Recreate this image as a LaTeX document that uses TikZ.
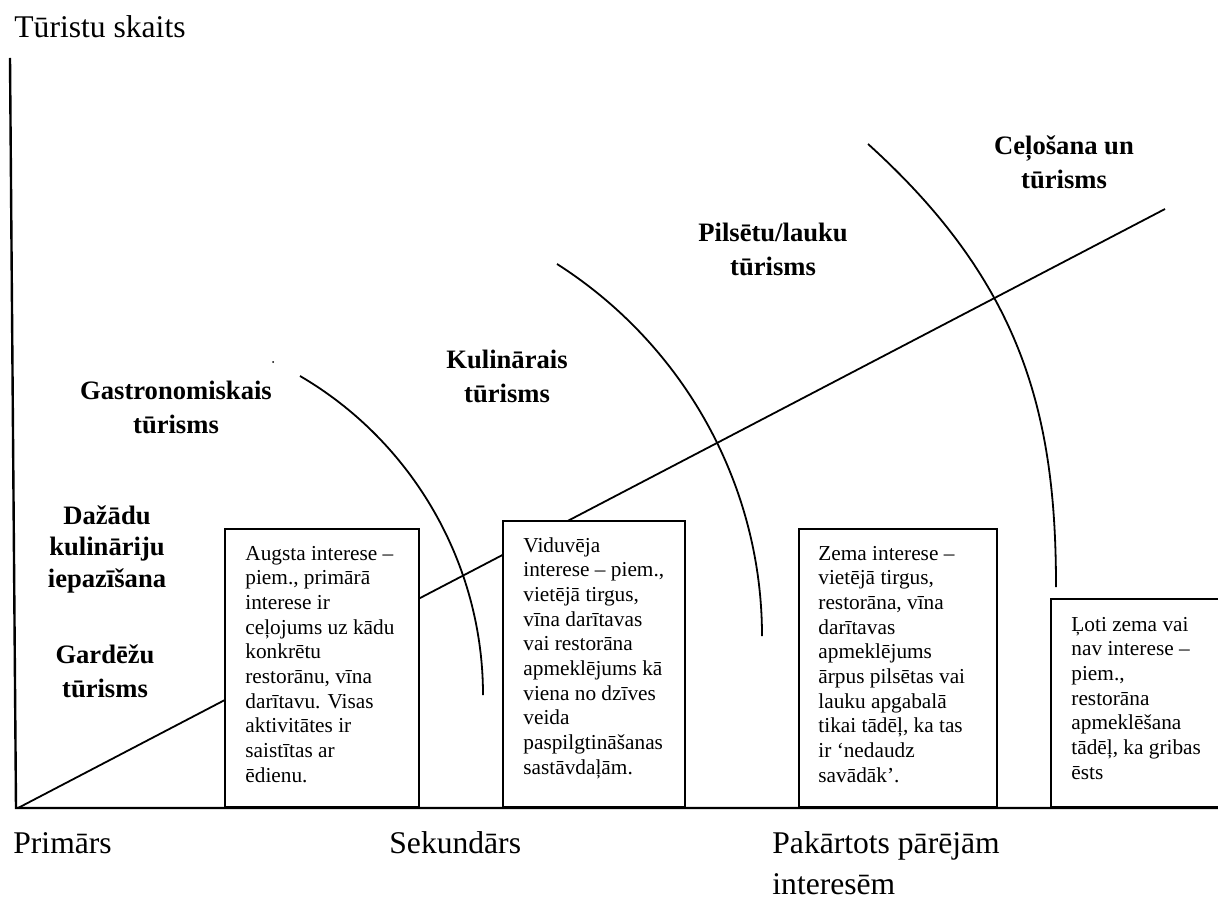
\documentclass[tikz,border=0pt]{standalone}
\usepackage{fontspec}
\setmainfont{Liberation Serif}
\newcommand{\mkcenter}[1]{\parbox[t]{140pt}{\centering #1}}
\newcommand{\mkleft}[1]{\parbox[t]{110pt}{\raggedright #1}}
\newcommand{\mkaxis}[1]{\parbox[t]{200pt}{\raggedright #1}}
\begin{document}
\begin{tikzpicture}[x=0.5pt,y=-0.5pt,
  axis/.style={line width=1.2pt},
  arcline/.style={line width=0.9pt},
  boxst/.style={draw, fill=white, line width=1pt, anchor=south west, inner sep=0pt},
  boxtext/.style={anchor=base west, inner sep=0pt, font=\fontsize{10.65}{12.35}\selectfont},
  cat/.style={anchor=base, inner sep=0pt, font=\bfseries\fontsize{13.3}{17}\selectfont},
  axlabel/.style={anchor=base west, inner sep=0pt, font=\fontsize{15.8}{20.5}\selectfont}]
\useasboundingbox (0,0) rectangle (1218,898);

% axes and diagonal
\coordinate (yTop) at (10,58);
\coordinate (O) at (16,808);
\coordinate (xEnd) at (1222,808);
\coordinate (dStart) at (18,808);
\coordinate (dEnd) at (1165,209);
\draw[arcline] (dStart) -- (dEnd);

% boxes
\node[boxst, minimum width=97pt, minimum height=139pt] (b1) at (224,808) {};
\node[boxst, minimum width=91pt, minimum height=143pt] (b2) at (502,808) {};
\node[boxst, minimum width=99pt, minimum height=139pt] (b3) at (798,808) {};
\node[boxst, minimum width=88pt, minimum height=104pt] (b4) at (1050,808) {};

\draw[axis] (yTop) -- (O) -- (xEnd);

% curves
\coordinate (c1s) at (300,376);
\coordinate (c1e) at (483,695);
\coordinate (c2s) at (557,264);
\coordinate (c2e) at (762,636);
\coordinate (c3s) at (868,144);
\coordinate (c3e) at (1056,587);
\draw[arcline] (c1s) .. controls (413,442) and (483,564) .. (c1e);
\draw[arcline] (c2s) .. controls (684,345) and (762,485) .. (c2e);
\draw[arcline] (c3s) .. controls (1024,285) and (1056,417) .. (c3e);
\fill (273,362) circle[radius=1];

% box texts
\node[boxtext] (t1) at (245,560) {\mkleft{Augsta interese –\\piem., primārā\\interese ir\\ceļojums uz kādu\\konkrētu\\restorānu, vīna\\darītavu. Visas\\aktivitātes ir\\saistītas ar\\ēdienu.}};
\node[boxtext] (t2) at (523,552) {\mkleft{Viduvēja\\interese – piem.,\\vietējā tirgus,\\vīna darītavas\\vai restorāna\\apmeklējums kā\\viena no dzīves\\veida\\paspilgtināšanas\\sastāvdaļām.}};
\node[boxtext] (t3) at (818,560) {\mkleft{Zema interese –\\vietējā tirgus,\\restorāna, vīna\\darītavas\\apmeklējums\\ārpus pilsētas vai\\lauku apgabalā\\tikai tādēļ, ka tas\\ir ‘nedaudz\\savādāk’.}};
\node[boxtext] (t4) at (1071,631) {\mkleft{Ļoti zema vai\\nav interese –\\piem.,\\restorāna\\apmeklēšana\\tādēļ, ka gribas\\ēsts}};

% category labels
\node[cat] (lg) at (176,399) {\mkcenter{Gastronomiskais\\tūrisms}};
\node[cat, font=\bfseries\fontsize{13.3}{15.75}\selectfont] (ld) at (107,524) {\mkcenter{Dažādu\\kulināriju\\iepazīšana}};
\node[cat] (lgd) at (105,663) {\mkcenter{Gardēžu\\tūrisms}};
\node[cat] (lk) at (507,368) {\mkcenter{Kulinārais\\tūrisms}};
\node[cat] (lp) at (773,242) {\mkcenter{Pilsētu/lauku\\tūrisms}};
\node[cat] (lc) at (1064,155) {\mkcenter{Ceļošana un\\tūrisms}};

% axis labels
\node[axlabel] (ly) at (14,38) {Tūristu skaits};
\node[axlabel] (lx1) at (13,853) {Primārs};
\node[axlabel] (lx2) at (389,853) {Sekundārs};
\node[axlabel] (lx3) at (772,853) {\mkaxis{Pakārtots pārējām\\interesēm}};
\end{tikzpicture}
\end{document}
